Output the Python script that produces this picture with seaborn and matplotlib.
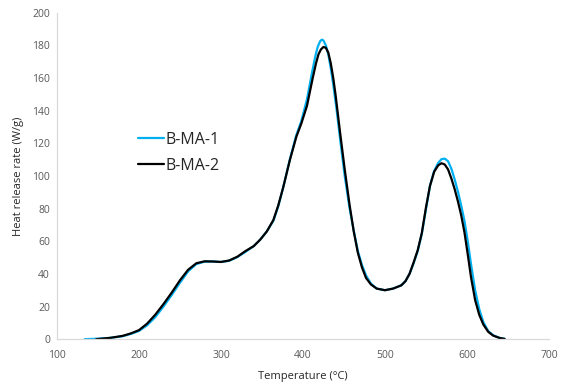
import numpy as np
import pandas as pd
import matplotlib
matplotlib.use("Agg")
import matplotlib.pyplot as plt
import seaborn as sns

# Heat release rate curves (W/g) against temperature (°C)
temp_1 = [134, 150, 165, 180, 190, 200, 210, 220, 230, 240, 250, 260, 270, 280,
          290, 300, 310, 320, 330, 340, 348, 356, 364, 370, 376, 384, 392, 398,
          405, 411, 415, 418, 421, 423, 425, 428, 431, 434, 437, 441, 446, 451,
          457, 462, 467, 472, 477, 483, 490, 500, 510, 520, 525, 530, 535, 540,
          545, 550, 555, 560, 565, 569, 573, 577, 581, 585, 589, 593, 597, 601,
          605, 610, 615, 620, 626, 632, 640, 646]
hrr_1 = [0, 0.3, 0.8, 1.8, 3.2, 5, 8.5, 13.5, 20, 27, 34.5, 41.5, 46, 47.5,
         47.6, 47.3, 48, 50.3, 53.5, 57, 61, 66, 72.5, 81.5, 93, 110, 125, 133.5,
         147, 163, 173, 179, 182.5, 183.5, 183, 180, 174.5, 166, 156, 141, 120, 100,
         80, 66.5, 54, 45.5, 39, 34, 31, 30, 31, 33, 35.5, 40, 46.5, 54,
         64.5, 79.5, 94, 103, 108, 110.3, 110.6, 109, 104.5, 98, 90.5, 82, 72.5, 60,
         46, 30, 18.5, 10.5, 5, 2.4, 0.8, 0.2]

temp_2 = [148, 165, 180, 190, 200, 210, 220, 230, 240, 250, 260, 270, 280, 290,
          300, 310, 320, 330, 340, 348, 356, 364, 370, 376, 384, 392, 398, 405,
          412, 416, 419, 422, 425, 428, 431, 434, 437, 440, 445, 451, 457, 462,
          467, 472, 477, 483, 490, 500, 510, 520, 525, 530, 535, 540, 545, 550,
          555, 560, 565, 569, 573, 577, 581, 585, 589, 593, 597, 601, 605, 610,
          615, 620, 626, 632, 640, 646]
hrr_2 = [0, 0.8, 2, 3.5, 5.5, 9.5, 15, 21.5, 28.5, 36, 42.5, 46.5, 47.7, 47.6,
         47.3, 48.2, 50.5, 54, 57, 61, 66, 73, 82, 93, 109.5, 124, 132, 143,
         160, 169, 174.5, 177.5, 179, 178.5, 175.5, 169, 160, 149, 128, 104, 82, 66,
         53, 44, 37.5, 33.5, 31, 30, 31, 33, 35.5, 40, 47, 54.5, 65, 80.5,
         94, 102.5, 106.5, 107.8, 107, 104, 98.5, 92, 84.5, 76, 65.5, 52, 38, 24,
         15, 9, 4.5, 2.2, 0.7, 0.2]

series_names = ["B-MA-1", "B-MA-2"]
series_colors = ["#00b0f0", "#000000"]

df = pd.concat([
    pd.DataFrame({"Temperature": temp_1, "HRR": hrr_1, "Sample": series_names[0]}),
    pd.DataFrame({"Temperature": temp_2, "HRR": hrr_2, "Sample": series_names[1]}),
], ignore_index=True)

sns.set_theme(style="white")
plt.rcParams["font.family"] = ["Open Sans", "DejaVu Sans"]

fig = plt.figure(figsize=(5.63, 3.85), dpi=100)
ax = fig.add_axes([0.101, 0.119, 0.874, 0.848])

sns.lineplot(data=df, x="Temperature", y="HRR", hue="Sample",
             palette=dict(zip(series_names, series_colors)),
             linewidth=1.6, sort=False, estimator=None, ax=ax)
for line in ax.get_lines():
    line.set_solid_joinstyle("round")
    line.set_solid_capstyle("round")

ax.set_xlim(100, 700)
ax.set_ylim(0, 200)
ax.set_xticks(np.arange(100, 701, 100))
ax.set_yticks(np.arange(0, 201, 20))
ax.tick_params(axis="both", length=0, labelsize=7.5, labelcolor="#595959")
ax.tick_params(axis="x", pad=8)
ax.tick_params(axis="y", pad=5)

for side in ["top", "right"]:
    ax.spines[side].set_visible(False)
for side in ["left", "bottom"]:
    ax.spines[side].set_color("#d9d9d9")
    ax.spines[side].set_linewidth(0.9)

ax.set_xlabel("Temperature (°C)", fontsize=8, color="#262626", labelpad=7)
ax.set_ylabel("Heat release rate (W/g)", fontsize=8, color="#262626", labelpad=6)

leg = ax.legend(loc="upper left", bbox_to_anchor=(0.152, 0.655), frameon=False,
                fontsize=11.5, handlelength=1.6, handletextpad=0.15,
                labelspacing=0.62, borderaxespad=0)

fig.savefig("out.png", dpi=100)
